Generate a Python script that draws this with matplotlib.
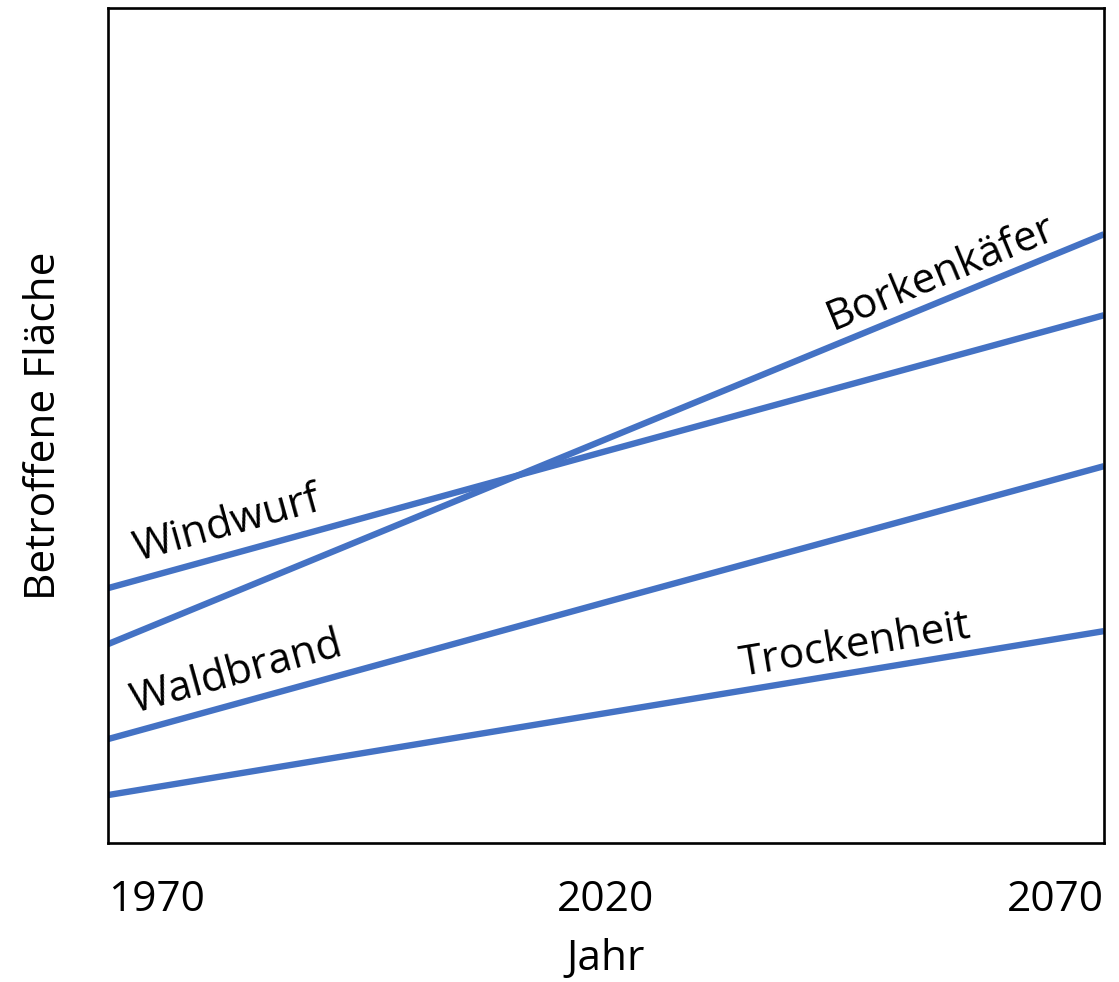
import matplotlib.pyplot as plt

plt.rcParams['font.family'] = ['Open Sans', 'DejaVu Sans']

# data (y in arbitrary units, no scale shown)
years = [1970, 2020, 2070]
windwurf = [255, 392, 528]
borkenkaefer = [199, 404, 609]
waldbrand = [104, 241, 377]
trockenheit = [48, 130, 212]

series = [windwurf, borkenkaefer, waldbrand, trockenheit]
labels = ['Windwurf', 'Borkenkäfer', 'Waldbrand', 'Trockenheit']
label_pos = [(1982.0, 318), (2053.7, 570), (1982.9, 170), (2045.0, 197)]
label_rot = [15.5, 22.5, 15.5, 9.5]

blue = '#4472C4'

fig = plt.figure(figsize=(11.19, 9.82), dpi=100)
ax = fig.add_axes([0.0965, 0.1415, 0.890, 0.850])

for s in series:
    ax.plot(years, s, color=blue, lw=4.6, solid_capstyle='butt')

for lab, (x, y), r in zip(labels, label_pos, label_rot):
    ax.text(x, y, lab, fontsize=30.5, rotation=r, rotation_mode='anchor',
            ha='center', va='center')

ax.set_xlim(1970, 2070)
ax.set_ylim(0, 835)
ax.set_yticks([])
ax.set_xticks(years)
ax.set_xticklabels(['1970', '2020', '2070'], fontsize=30.5)
for t, ha in zip(ax.get_xticklabels(), ['left', 'center', 'right']):
    t.set_ha(ha)
ax.tick_params(axis='x', length=0, pad=26)

for sp in ax.spines.values():
    sp.set_linewidth(1.9)

ax.set_xlabel('Jahr', fontsize=30.5, labelpad=12)
ax.set_ylabel('Betroffene Fläche', fontsize=30.5, labelpad=31)

fig.savefig('out.png', dpi=100)
